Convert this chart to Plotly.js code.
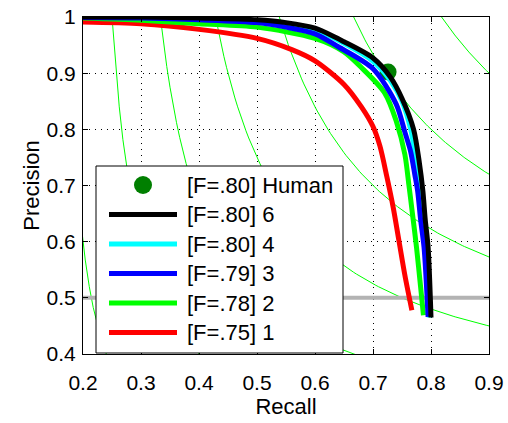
<!DOCTYPE html>
<html>
<head>
<meta charset="utf-8">
<script src="https://cdn.plot.ly/plotly-3.0.1.min.js"></script>
<style>html,body{margin:0;padding:0;background:#fff;}#chart{width:508px;height:423px;}</style>
</head>
<body>
<div id="chart"></div>
<script>
// ---- data ----
var fLevels = [0.1, 0.2, 0.3, 0.4, 0.5, 0.6, 0.7, 0.8, 0.9];

var r6 = [0.2, 0.3, 0.4, 0.5, 0.55, 0.6, 0.65, 0.7, 0.73, 0.75, 0.77, 0.78, 0.786, 0.79, 0.795, 0.8];
var p6 = [1.0, 1.0, 0.998, 0.995, 0.99, 0.98, 0.956, 0.927, 0.893, 0.855, 0.80, 0.74, 0.69, 0.64, 0.59, 0.465];

var r4 = [0.2, 0.3, 0.4, 0.5, 0.55, 0.6, 0.65, 0.7, 0.73, 0.75, 0.765, 0.775, 0.781, 0.786, 0.791, 0.797];
var p4 = [1.0, 1.0, 0.997, 0.993, 0.987, 0.977, 0.953, 0.921, 0.887, 0.85, 0.80, 0.74, 0.69, 0.64, 0.59, 0.465];

var r3 = [0.2, 0.3, 0.4, 0.5, 0.55, 0.6, 0.64, 0.7, 0.74, 0.755, 0.765, 0.772, 0.777, 0.782, 0.788, 0.795];
var p3 = [0.999, 0.998, 0.995, 0.99, 0.982, 0.97, 0.947, 0.908, 0.845, 0.795, 0.76, 0.72, 0.69, 0.64, 0.59, 0.466];

var r2 = [0.2, 0.3, 0.4, 0.5, 0.6, 0.65, 0.68, 0.72, 0.74, 0.755, 0.762, 0.768, 0.775, 0.782, 0.787];
var p2 = [0.998, 0.994, 0.988, 0.982, 0.962, 0.938, 0.91, 0.865, 0.815, 0.755, 0.70, 0.65, 0.59, 0.52, 0.469];

var r1 = [0.2, 0.3, 0.4, 0.5, 0.56, 0.6, 0.65, 0.68, 0.7, 0.712, 0.724, 0.735, 0.745, 0.755, 0.767];
var p1 = [0.991, 0.988, 0.978, 0.962, 0.942, 0.922, 0.88, 0.84, 0.805, 0.77, 0.715, 0.66, 0.60, 0.54, 0.478];

var humanR = [0.726];
var humanP = [0.902];

var baselineP = 0.5;
var xTicks = [0.2, 0.3, 0.4, 0.5, 0.6, 0.7, 0.8, 0.9];
var xTickText = ["0.2", "0.3", "0.4", "0.5", "0.6", "0.7", "0.8", "0.9"];
var yTicks = [0.4, 0.5, 0.6, 0.7, 0.8, 0.9, 1.0];
var yTickText = ["0.4", "0.5", "0.6", "0.7", "0.8", "0.9", "1"];

var legendLabels = ["[F=.80] Human", "[F=.80] 6", "[F=.80] 4", "[F=.79] 3", "[F=.78] 2", "[F=.75] 1"];
var legendColors = ["#007f00", "#000000", "#00ffff", "#0000ff", "#00ff00", "#ff0000"];

// ---- build ----
var FONT = "Liberation Sans, Arial, sans-serif";
var traces = [];

// iso-F contours
fLevels.forEach(function (F) {
  var xs = [], ys = [];
  var r0 = F / (2 - F);
  var n = 120;
  for (var i = 0; i <= n; i++) {
    var R = r0 + (1.0 - r0) * i / n;
    xs.push(R);
    ys.push(F * R / (2 * R - F));
  }
  traces.push({x: xs, y: ys, mode: "lines", line: {color: "#00ff00", width: 1}, hoverinfo: "skip", showlegend: false});
});

// baseline at 0.5
traces.push({x: [xTicks[0], xTicks[xTicks.length - 1]], y: [baselineP, baselineP], mode: "lines",
  line: {color: "#b3b3b3", width: 4}, showlegend: false});

// human
traces.push({x: humanR, y: humanP, mode: "markers", marker: {color: legendColors[0], size: 17}, showlegend: false});

// draw order: red, green, cyan, blue, black
var curves = [[r1, p1, 5], [r2, p2, 4], [r4, p4, 2], [r3, p3, 3], [r6, p6, 1]];
curves.forEach(function (c) {
  traces.push({x: c[0], y: c[1], mode: "lines",
    line: {color: legendColors[c[2]], width: 5, shape: "spline", smoothing: 0.8}, showlegend: false});
});

// custom legend (paper coords)
var W = 406, H = 337; // plot area px
function px(xp) { return xp / W; }
function py(yp) { return yp / H; }
var shapes = [];
var annotations = [];
var boxL = 13, boxR = 260, boxT = 188, boxB = 1; // px from plot left / bottom
shapes.push({type: "rect", xref: "paper", yref: "paper", x0: px(boxL), x1: px(boxR), y0: py(boxB), y1: py(boxT),
  line: {color: "#000", width: 1}, fillcolor: "#fff", layer: "above"});
var rowTop = 169, rowH = 29.5; // centre of first row (px from bottom)
legendLabels.forEach(function (lab, i) {
  var yc = py(rowTop - i * rowH);
  if (i === 0) {
    shapes.push({type: "circle", xref: "paper", yref: "paper", xsizemode: "pixel", ysizemode: "pixel",
      xanchor: px(60), yanchor: yc, x0: -9, x1: 9, y0: -9, y1: 9,
      fillcolor: legendColors[i], line: {width: 0}, layer: "above"});
  } else {
    shapes.push({type: "line", xref: "paper", yref: "paper", x0: px(26), x1: px(94), y0: yc, y1: yc,
      line: {color: legendColors[i], width: 5}, layer: "above"});
  }
  annotations.push({xref: "paper", yref: "paper", x: px(102), y: yc, xanchor: "left", yanchor: "middle",
    text: lab, showarrow: false, font: {family: FONT, size: 22, color: "#000"}});
});

var axisCommon = {
  showline: true, linecolor: "#000", linewidth: 1, mirror: "ticks",
  ticks: "inside", ticklen: 5, tickcolor: "#000", tickwidth: 1,
  showgrid: true, gridcolor: "#000", gridwidth: 1, griddash: "1px,5px",
  zeroline: false, tickfont: {family: FONT, size: 21, color: "#000"}
};

var layout = {
  width: 508, height: 423,
  margin: {l: 83, r: 19, t: 17, b: 69},
  paper_bgcolor: "#fff", plot_bgcolor: "#fff",
  showlegend: false,
  xaxis: Object.assign({}, axisCommon, {range: [0.2, 0.9], tickvals: xTicks, ticktext: xTickText,
    ticklabelstandoff: 10,
    title: {text: "Recall", font: {family: FONT, size: 22, color: "#000"}, standoff: 0}}),
  yaxis: Object.assign({}, axisCommon, {range: [0.4, 1.0], tickvals: yTicks, ticktext: yTickText,
    ticklabelstandoff: 2,
    title: {text: "Precision", font: {family: FONT, size: 22, color: "#000"}, standoff: 0}}),
  shapes: shapes,
  annotations: annotations
};

Plotly.newPlot("chart", traces, layout, {staticPlot: true, displayModeBar: false});
</script>
</body>
</html>
